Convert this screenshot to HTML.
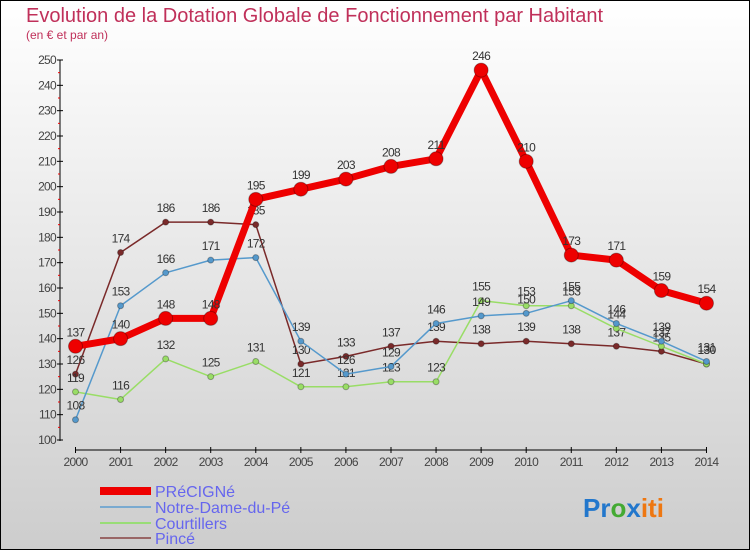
<!DOCTYPE html>
<html><head><meta charset="utf-8"><style>
body{margin:0}
svg{display:block;font-family:"Liberation Sans",sans-serif}
</style></head><body>
<svg id="c" width="750" height="550" viewBox="0 0 750 550" xmlns="http://www.w3.org/2000/svg">
<defs><linearGradient id="bg" x1="0" y1="0" x2="0" y2="1"><stop offset="0" stop-color="#ffffff"/><stop offset="1" stop-color="#cdcdcd"/></linearGradient></defs>
<rect x="0.5" y="0.5" width="749" height="549" fill="url(#bg)" stroke="#000"/>
<text x="26" y="22" font-size="20" fill="#c0305a">Evolution de la Dotation Globale de Fonctionnement par Habitant</text>
<text x="26" y="39" font-size="12" fill="#c0305a">(en € et par an)</text>
<g id="axes"></g><g id="series"></g>
<g>
<line x1="100" y1="491" x2="151" y2="491" stroke="#ee0000" stroke-width="8"/>
<text x="155" y="497" font-size="16" fill="#6666ee">PRéCIGNé</text>
<line x1="100" y1="507" x2="151" y2="507" stroke="#7aaad0" stroke-width="2"/>
<text x="155" y="513" font-size="16" fill="#6666ee">Notre-Dame-du-Pé</text>
<line x1="100" y1="523" x2="151" y2="523" stroke="#99dd77" stroke-width="2"/>
<text x="155" y="529" font-size="16" fill="#6666ee">Courtillers</text>
<line x1="100" y1="538" x2="151" y2="538" stroke="#996666" stroke-width="2"/>
<text x="155" y="544" font-size="16" fill="#6666ee">Pincé</text>
</g>
<text x="583" y="517" font-size="26" font-weight="bold"><tspan fill="#2277cc">Pr</tspan><tspan fill="#44aa33">o</tspan><tspan fill="#2277cc">x</tspan><tspan fill="#ee7711">iti</tspan></text>
</svg>
<script>
const years=[2000,2001,2002,2003,2004,2005,2006,2007,2008,2009,2010,2011,2012,2013,2014];
const precigne=[137,140,148,148,195,199,203,208,211,246,210,173,171,159,154];
const notreDame=[108,153,166,171,172,139,126,129,146,149,150,155,146,139,131];
const courtillers=[119,116,132,125,131,121,121,123,123,155,153,153,144,137,130];
const pince=[126,174,186,186,185,130,133,137,139,138,139,138,137,135,130];
const yTicks=[100,110,120,130,140,150,160,170,180,190,200,210,220,230,240,250];
const NS="http://www.w3.org/2000/svg";
const X=i=>75.5+i*45.07, Y=v=>440-(v-100)*380/150;
function el(t,a,p){const e=document.createElementNS(NS,t);for(const k in a)e.setAttribute(k,a[k]);p.appendChild(e);return e;}
const ax=document.getElementById('axes'), sg=document.getElementById('series');
let yl=el('line',{x1:60,y1:60,x2:60,y2:441,stroke:'#000'},ax);


yTicks.forEach(v=>{
  const t=el('line',{x1:57,y1:Y(v),x2:63,y2:Y(v),stroke:'#000'},ax);
  
  
  if(v<250){
  const m=el('line',{x1:58,y1:Y(v+5),x2:60,y2:Y(v+5),stroke:'#e00'},ax);
  
  }
  const l=el('text',{x:56,y:Y(v)+4,'font-size':12,fill:'#444','text-anchor':'end','letter-spacing':'-0.7'},ax);
  l.textContent=v;
  
  
});
let xl=el('line',{x1:75,y1:450,x2:707,y2:450,stroke:'#000'},ax);


years.forEach((y,i)=>{
  const t=el('line',{x1:X(i),y1:447,x2:X(i),y2:453,stroke:'#000'},ax);
  
  
  const l=el('text',{x:X(i),y:466,'font-size':12,fill:'#444','text-anchor':'middle','letter-spacing':'-0.7'},ax);
  l.textContent=y;
  
  
});
function draw(vals,color,w,r,name){
  const g=el('g',{},sg);
  
  
  const p=el('polyline',{points:vals.map((v,i)=>X(i)+','+Y(v)).join(' '),fill:'none',stroke:color,'stroke-width':w,'stroke-linejoin':'round'},g);
  
  
  vals.forEach((v,i)=>{
    const c=el('circle',{cx:X(i),cy:Y(v),r:r,fill:color,stroke:'rgba(0,0,0,0.3)'},g);
    
    
    const t=el('text',{x:X(i),y:Y(v)-10,'font-size':12,fill:'#333','text-anchor':'middle','letter-spacing':'-0.7'},g);
    t.textContent=v;
    
    
  });
}
draw(pince,'#7a2a2a',1.5,3,'pince');
draw(courtillers,'#99dd66',1.5,3,'courtillers');
draw(notreDame,'#5599cc',1.5,3,'notre-dame');
draw(precigne,'#ee0000',7,7,'precigne');
</script>
</body></html>
